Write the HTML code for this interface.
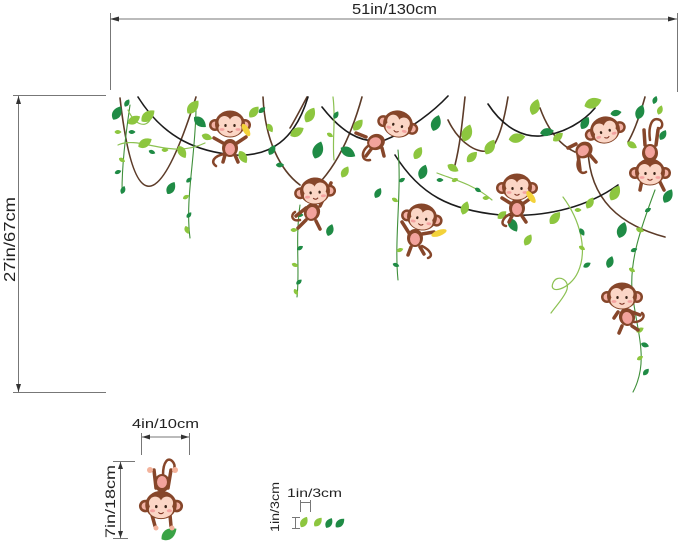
<!DOCTYPE html>
<html><head><meta charset="utf-8"><style>
html,body{margin:0;padding:0;background:#fff;}
svg{display:block;}
text{font-family:"Liberation Sans",Arial,sans-serif;fill:#222;}
</style></head><body>
<svg width="679" height="543" viewBox="0 0 679 543" xmlns="http://www.w3.org/2000/svg">
<defs>
<path id="lf" d="M-7,0 C-4,-5 2,-5.5 7,0 C2,5.5 -4,5 -7,0Z"/>
<g id="mh">
 <circle cx="-15" cy="1" r="6" fill="#86462a"/><circle cx="-15" cy="1" r="3.5" fill="#f3b1a4"/>
 <circle cx="15" cy="1" r="6" fill="#86462a"/><circle cx="15" cy="1" r="3.5" fill="#f3b1a4"/>
 <ellipse cx="0" cy="0" rx="15" ry="13.5" fill="#86462a"/>
 <ellipse cx="0" cy="4.5" rx="11.5" ry="8" fill="#fbd6c6"/>
 <circle cx="-5.5" cy="-2" r="6" fill="#fbd6c6"/><circle cx="5.5" cy="-2" r="6" fill="#fbd6c6"/>
 <ellipse cx="-4.5" cy="1.5" rx="1.2" ry="1.5" fill="#3a2418"/><ellipse cx="4.5" cy="1.5" rx="1.2" ry="1.5" fill="#3a2418"/>
 <ellipse cx="-8" cy="5.5" rx="2.5" ry="1.4" fill="#f4a2a0"/><ellipse cx="8" cy="5.5" rx="2.5" ry="1.4" fill="#f4a2a0"/>
 <path d="M-2.5,7 Q0,9.5 2.5,7" stroke="#7a3020" stroke-width="1" fill="none"/>
</g>
<g id="mb">
 <ellipse cx="0" cy="0" rx="8" ry="9" fill="#86462a"/>
 <ellipse cx="0" cy="1" rx="5" ry="6" fill="#f2a39d"/>
</g>
</defs>

<!-- dimension lines -->
<g stroke="#777" stroke-width="1" fill="none">
 <line x1="110" y1="19" x2="677" y2="19"/>
 <line x1="110.5" y1="13" x2="110.5" y2="90"/>
 <line x1="677.5" y1="13" x2="677.5" y2="92"/>
 <line x1="13" y1="95.5" x2="106" y2="95.5"/>
 <line x1="13" y1="392.5" x2="106" y2="392.5"/>
 <line x1="18.5" y1="95" x2="18.5" y2="392"/>
 <line x1="141" y1="437" x2="189" y2="437"/>
 <line x1="141.5" y1="433" x2="141.5" y2="455"/>
 <line x1="189.5" y1="433" x2="189.5" y2="455"/>
 <line x1="120.5" y1="461" x2="120.5" y2="538"/>
 <line x1="113" y1="461.5" x2="135" y2="461.5"/>
 <line x1="113" y1="538.5" x2="128" y2="538.5"/>
 <line x1="300.5" y1="500" x2="300.5" y2="512"/>
 <line x1="310.5" y1="500" x2="310.5" y2="512"/>
 <line x1="300" y1="502.5" x2="310" y2="502.5"/>
 <line x1="292" y1="517.5" x2="300" y2="517.5"/>
 <line x1="292" y1="528.5" x2="300" y2="528.5"/>
 <line x1="295.5" y1="517" x2="295.5" y2="528"/>
</g>
<g fill="#333">
 <polygon points="110,19 119,16.5 119,21.5"/>
 <polygon points="677,19 668,16.5 668,21.5"/>
 <polygon points="18.5,96 16,104 21,104"/>
 <polygon points="18.5,392 16,384 21,384"/>
 <polygon points="142,437 150,434.5 150,439.5"/>
 <polygon points="189,437 181,434.5 181,439.5"/>
 <polygon points="120.5,462 118,469 123,469"/>
 <polygon points="120.5,538 118,531 123,531"/>
</g>
<text x="352" y="14" font-size="15" textLength="85" lengthAdjust="spacingAndGlyphs">51in/130cm</text>
<text transform="translate(15,282) rotate(-90)" font-size="15.5" textLength="85" lengthAdjust="spacingAndGlyphs">27in/67cm</text>
<text x="132" y="428" font-size="13" textLength="67" lengthAdjust="spacingAndGlyphs">4in/10cm</text>
<text transform="translate(115,538) rotate(-90)" font-size="13.5" textLength="73" lengthAdjust="spacingAndGlyphs">7in/18cm</text>
<text x="287" y="497" font-size="12" textLength="55" lengthAdjust="spacingAndGlyphs">1in/3cm</text>
<text transform="translate(279,532) rotate(-90)" font-size="11.5" textLength="50" lengthAdjust="spacingAndGlyphs">1in/3cm</text>

<!-- vines -->
<g fill="none" stroke-linecap="round">
 <g stroke="#5c3b28" stroke-width="1.6">
  <path d="M120,98 Q140,275 196,97"/>
  <path d="M263,97 C265,140 280,170 300,185"/>
  <path d="M362,97 C350,140 335,165 322,180"/>
  <path d="M465,97 C462,125 460,145 455,165"/>
  <path d="M448,120 C460,145 480,155 490,150 C500,140 505,115 508,97"/>
  <path d="M540,108 C548,130 560,145 575,152"/>
  <path d="M588,150 C590,200 620,225 665,237"/>
  <path d="M645,97 C640,115 635,130 628,142"/>
  <path d="M307,97 C300,110 295,120 290,128"/>
 </g>
 <g stroke="#1c1c1c" stroke-width="1.6">
  <path d="M138,97 C165,140 200,152 235,155 C270,157 295,140 308,97"/>
  <path d="M322,107 C340,130 360,145 385,140 C410,130 435,110 448,96"/>
  <path d="M395,155 C420,195 450,210 500,215 C550,218 590,205 618,185"/>
  <path d="M488,104 C505,130 525,137 540,136 C565,134 585,120 595,108"/>
 </g>
 <g stroke="#3f8f3a" stroke-width="1.1">
  <path d="M655,190 C640,230 630,260 632,290 C636,330 650,360 633,392"/>
  <path d="M398,150 C402,190 394,240 398,280"/>
  <path d="M300,205 C295,240 300,270 297,297"/>
  <path d="M196,110 C195,160 185,200 190,238"/>
  <path d="M130,105 C125,140 122,165 122,192"/>
 </g>
 <g stroke="#8cc152" stroke-width="1.2">
  <path d="M563,197 C580,220 588,250 578,272 C570,290 548,295 553,283 C557,273 572,280 566,292 C562,300 556,306 551,313"/>
  <path d="M118,145 C140,135 170,160 205,143"/>
  <path d="M333,97 C336,120 332,140 334,160"/>
  <path d="M437,173 C455,180 475,185 492,200"/>
  <path d="M128,110 C135,125 145,128 150,120"/>
 </g>
</g>

<!-- leaves -->
<g>
<use href="#lf" fill="#1f8b45" transform="translate(117,113) rotate(-60) scale(1.1)"/>
<use href="#lf" fill="#8dc63f" transform="translate(134,120) rotate(-30) scale(1.0)"/>
<use href="#lf" fill="#8dc63f" transform="translate(148,116) rotate(-40) scale(1.2)"/>
<use href="#lf" fill="#8dc63f" transform="translate(145,143) rotate(-30) scale(1.1)"/>
<use href="#lf" fill="#8dc63f" transform="translate(182,152) rotate(60) scale(1.0)"/>
<use href="#lf" fill="#8dc63f" transform="translate(193,107) rotate(-50) scale(1.2)"/>
<use href="#lf" fill="#1f8b45" transform="translate(200,122) rotate(40) scale(1.1)"/>
<use href="#lf" fill="#1f8b45" transform="translate(171,188) rotate(-60) scale(1.0)"/>
<use href="#lf" fill="#1f8b45" transform="translate(127,103) rotate(-60) scale(0.6)"/>
<use href="#lf" fill="#1f8b45" transform="translate(132,132) rotate(0) scale(0.5)"/>
<use href="#lf" fill="#8dc63f" transform="translate(122,160) rotate(30) scale(0.5)"/>
<use href="#lf" fill="#1f8b45" transform="translate(118,172) rotate(-20) scale(0.5)"/>
<use href="#lf" fill="#1f8b45" transform="translate(123,190) rotate(-70) scale(0.6)"/>
<use href="#lf" fill="#1f8b45" transform="translate(152,152) rotate(20) scale(0.5)"/>
<use href="#lf" fill="#8dc63f" transform="translate(165,150) rotate(0) scale(0.5)"/>
<use href="#lf" fill="#1f8b45" transform="translate(189,180) rotate(-40) scale(0.5)"/>
<use href="#lf" fill="#8dc63f" transform="translate(186,197) rotate(-30) scale(0.5)"/>
<use href="#lf" fill="#1f8b45" transform="translate(189,215) rotate(-50) scale(0.5)"/>
<use href="#lf" fill="#8dc63f" transform="translate(187,230) rotate(70) scale(0.6)"/>
<use href="#lf" fill="#8dc63f" transform="translate(118,132) rotate(0) scale(0.5)"/>
<use href="#lf" fill="#8dc63f" transform="translate(243,157) rotate(60) scale(1.0)"/>
<use href="#lf" fill="#8dc63f" transform="translate(207,137) rotate(20) scale(0.8)"/>
<use href="#lf" fill="#8dc63f" transform="translate(254,112) rotate(-50) scale(1.0)"/>
<use href="#lf" fill="#8dc63f" transform="translate(310,115) rotate(-60) scale(1.2)"/>
<use href="#lf" fill="#8dc63f" transform="translate(297,132) rotate(-30) scale(1.1)"/>
<use href="#lf" fill="#1f8b45" transform="translate(272,150) rotate(-60) scale(0.8)"/>
<use href="#lf" fill="#8dc63f" transform="translate(270,128) rotate(60) scale(0.7)"/>
<use href="#lf" fill="#1f8b45" transform="translate(280,165) rotate(0) scale(0.6)"/>
<use href="#lf" fill="#1f8b45" transform="translate(262,110) rotate(-40) scale(0.6)"/>
<use href="#lf" fill="#1f8b45" transform="translate(300,215) rotate(0) scale(0.5)"/>
<use href="#lf" fill="#8dc63f" transform="translate(294,230) rotate(0) scale(0.5)"/>
<use href="#lf" fill="#1f8b45" transform="translate(300,248) rotate(-30) scale(0.5)"/>
<use href="#lf" fill="#8dc63f" transform="translate(295,265) rotate(20) scale(0.5)"/>
<use href="#lf" fill="#1f8b45" transform="translate(299,282) rotate(-40) scale(0.5)"/>
<use href="#lf" fill="#8dc63f" transform="translate(296,292) rotate(60) scale(0.5)"/>
<use href="#lf" fill="#1f8b45" transform="translate(318,150) rotate(-70) scale(1.3)"/>
<use href="#lf" fill="#1f8b45" transform="translate(348,152) rotate(30) scale(1.2)"/>
<use href="#lf" fill="#8dc63f" transform="translate(345,172) rotate(-60) scale(0.9)"/>
<use href="#lf" fill="#8dc63f" transform="translate(358,125) rotate(-50) scale(1.0)"/>
<use href="#lf" fill="#1f8b45" transform="translate(330,230) rotate(-70) scale(0.9)"/>
<use href="#lf" fill="#1f8b45" transform="translate(378,193) rotate(-60) scale(0.8)"/>
<use href="#lf" fill="#8dc63f" transform="translate(418,153) rotate(-60) scale(1.0)"/>
<use href="#lf" fill="#1f8b45" transform="translate(436,123) rotate(-70) scale(1.2)"/>
<use href="#lf" fill="#1f8b45" transform="translate(423,172) rotate(-70) scale(1.1)"/>
<use href="#lf" fill="#8dc63f" transform="translate(467,133) rotate(-70) scale(1.3)"/>
<use href="#lf" fill="#8dc63f" transform="translate(472,157) rotate(-45) scale(1.0)"/>
<use href="#lf" fill="#8dc63f" transform="translate(453,168) rotate(30) scale(0.9)"/>
<use href="#lf" fill="#8dc63f" transform="translate(465,208) rotate(-70) scale(1.0)"/>
<use href="#lf" fill="#1f8b45" transform="translate(440,180) rotate(0) scale(0.5)"/>
<use href="#lf" fill="#8dc63f" transform="translate(455,180) rotate(-20) scale(0.5)"/>
<use href="#lf" fill="#1f8b45" transform="translate(478,190) rotate(30) scale(0.5)"/>
<use href="#lf" fill="#8dc63f" transform="translate(486,198) rotate(0) scale(0.5)"/>
<use href="#lf" fill="#1f8b45" transform="translate(402,180) rotate(-30) scale(0.5)"/>
<use href="#lf" fill="#8dc63f" transform="translate(395,200) rotate(30) scale(0.5)"/>
<use href="#lf" fill="#8dc63f" transform="translate(400,250) rotate(-20) scale(0.5)"/>
<use href="#lf" fill="#1f8b45" transform="translate(396,265) rotate(20) scale(0.5)"/>
<use href="#lf" fill="#1f8b45" transform="translate(336,115) rotate(-60) scale(0.6)"/>
<use href="#lf" fill="#8dc63f" transform="translate(330,135) rotate(30) scale(0.5)"/>
<use href="#lf" fill="#8dc63f" transform="translate(535,107) rotate(-70) scale(1.2)"/>
<use href="#lf" fill="#8dc63f" transform="translate(593,103) rotate(-20) scale(1.3)"/>
<use href="#lf" fill="#8dc63f" transform="translate(490,147) rotate(-60) scale(1.2)"/>
<use href="#lf" fill="#8dc63f" transform="translate(517,138) rotate(-10) scale(1.2)"/>
<use href="#lf" fill="#1f8b45" transform="translate(547,132) rotate(-10) scale(1.0)"/>
<use href="#lf" fill="#8dc63f" transform="translate(558,137) rotate(-40) scale(0.9)"/>
<use href="#lf" fill="#1f8b45" transform="translate(585,123) rotate(-60) scale(1.0)"/>
<use href="#lf" fill="#1f8b45" transform="translate(640,112) rotate(-70) scale(1.1)"/>
<use href="#lf" fill="#1f8b45" transform="translate(616,113) rotate(-10) scale(0.8)"/>
<use href="#lf" fill="#8dc63f" transform="translate(632,145) rotate(30) scale(0.8)"/>
<use href="#lf" fill="#1f8b45" transform="translate(668,196) rotate(-60) scale(1.1)"/>
<use href="#lf" fill="#8dc63f" transform="translate(615,193) rotate(-60) scale(1.2)"/>
<use href="#lf" fill="#8dc63f" transform="translate(590,203) rotate(-60) scale(0.9)"/>
<use href="#lf" fill="#8dc63f" transform="translate(555,218) rotate(-50) scale(1.1)"/>
<use href="#lf" fill="#8dc63f" transform="translate(528,240) rotate(-60) scale(0.9)"/>
<use href="#lf" fill="#1f8b45" transform="translate(622,230) rotate(-70) scale(1.2)"/>
<use href="#lf" fill="#1f8b45" transform="translate(610,262) rotate(-70) scale(0.9)"/>
<use href="#lf" fill="#1f8b45" transform="translate(513,225) rotate(60) scale(1.1)"/>
<use href="#lf" fill="#8dc63f" transform="translate(502,215) rotate(-40) scale(0.8)"/>
<use href="#lf" fill="#1f8b45" transform="translate(582,232) rotate(60) scale(0.6)"/>
<use href="#lf" fill="#8dc63f" transform="translate(578,210) rotate(0) scale(0.5)"/>
<use href="#lf" fill="#1f8b45" transform="translate(587,265) rotate(-30) scale(0.6)"/>
<use href="#lf" fill="#8dc63f" transform="translate(582,248) rotate(30) scale(0.5)"/>
<use href="#lf" fill="#1f8b45" transform="translate(648,210) rotate(-30) scale(0.5)"/>
<use href="#lf" fill="#8dc63f" transform="translate(640,230) rotate(20) scale(0.6)"/>
<use href="#lf" fill="#1f8b45" transform="translate(634,250) rotate(-20) scale(0.5)"/>
<use href="#lf" fill="#8dc63f" transform="translate(632,270) rotate(30) scale(0.5)"/>
<use href="#lf" fill="#8dc63f" transform="translate(640,330) rotate(-30) scale(0.6)"/>
<use href="#lf" fill="#1f8b45" transform="translate(645,345) rotate(20) scale(0.6)"/>
<use href="#lf" fill="#8dc63f" transform="translate(640,358) rotate(-30) scale(0.5)"/>
<use href="#lf" fill="#1f8b45" transform="translate(646,372) rotate(-50) scale(0.6)"/>
<use href="#lf" fill="#1f8b45" transform="translate(663,135) rotate(-60) scale(0.8)"/>
<use href="#lf" fill="#8dc63f" transform="translate(660,110) rotate(-70) scale(0.7)"/>
<use href="#lf" fill="#1f8b45" transform="translate(655,100) rotate(-70) scale(0.6)"/>
<!-- bottom small leaves -->
<use href="#lf" fill="#8dc63f" transform="translate(304,522) rotate(-60) scale(0.85)"/>
<use href="#lf" fill="#8dc63f" transform="translate(318,522) rotate(-50) scale(0.8)"/>
<use href="#lf" fill="#1f8b45" transform="translate(329,523) rotate(-60) scale(0.8)"/>
<use href="#lf" fill="#1f8b45" transform="translate(340,523) rotate(-45) scale(0.85)"/>
<use href="#lf" fill="#3aa346" transform="translate(169,534) rotate(-35) scale(1.3)"/>
</g>

<!-- monkeys -->
<g stroke="#86462a" stroke-width="3.5" stroke-linecap="round" fill="none">
 <!-- M1 -->
 <path d="M223,143 L214,138"/><path d="M237,143 L246,137"/>
 <path d="M225,155 L223,162"/><path d="M235,155 L238,162"/>
 <path d="M224,154 C214,156 210,162 216,166" stroke-width="2.5"/>
 <!-- M2 -->
 <path d="M320,206 L331,183"/><path d="M306,208 L296,216"/>
 <path d="M306,220 L298,228"/><path d="M316,221 L320,229"/>
 <path d="M300,220 C292,222 290,215 295,212" stroke-width="2.5"/>
 <!-- M3 -->
 <path d="M366,137 L356,133"/><path d="M372,148 L366,156"/><path d="M382,148 L384,156"/>
 <path d="M368,146 C360,152 362,162 370,160" stroke-width="2.5"/>
 <!-- M4 -->
 <path d="M409,233 L402,222"/><path d="M422,234 L434,232"/>
 <path d="M411,247 L408,255"/><path d="M420,247 L424,254"/>
 <path d="M422,246 C430,250 434,256 428,258" stroke-width="2.5"/>
 <!-- M5 -->
 <path d="M510,203 L502,198"/><path d="M524,203 L531,198"/>
 <path d="M512,216 L509,222"/><path d="M522,216 L526,222"/>
 <path d="M510,214 C502,218 500,225 506,226" stroke-width="2.5"/>
 <!-- M6 -->
 <path d="M576,144 L568,148"/><path d="M578,154 L580,170"/><path d="M590,155 L596,162"/>
 <path d="M580,156 C574,166 580,176 586,172" stroke-width="2.5"/>
 <!-- M7 -->
 <path d="M645,145 L644,130"/><path d="M656,145 L658,130"/>
 <path d="M642,180 L640,190"/><path d="M659,180 L664,190"/>
 <path d="M650,140 C648,126 652,116 660,120 C664,123 662,130 658,128" stroke-width="2.5"/>
 <!-- M8 -->
 <path d="M632,312 L640,315"/><path d="M618,312 L614,318"/>
 <path d="M622,326 L619,333"/><path d="M632,326 L638,330"/>
 <path d="M634,322 C642,322 646,316 642,313" stroke-width="2.5"/>
 <!-- small monkey -->
 <path d="M156,488 L154,470"/><path d="M168,488 L171,470"/>
 <path d="M152,515 L155,526"/><path d="M170,515 L171,526"/>
 <path d="M163,475 C163,462 168,456 173,462 C176,466 174,472 171,470" stroke-width="2.5"/>
</g>
<g fill="#f3b39c">
 <circle cx="150" cy="470" r="3"/><circle cx="175" cy="470" r="3"/>
 <circle cx="156" cy="528" r="2.5"/><circle cx="172" cy="528" r="2.5"/>
</g>
<use href="#mb" transform="translate(230,148)"/>
<use href="#mh" transform="translate(230,124)"/>
<use href="#mb" transform="translate(312,212) rotate(20)"/>
<use href="#mh" transform="translate(315,191) rotate(-5)"/>
<use href="#mb" transform="translate(376,142) rotate(70)"/>
<use href="#mh" transform="translate(398,124) rotate(15)"/>
<use href="#mb" transform="translate(415,238)"/>
<use href="#mh" transform="translate(422,217) rotate(10)"/>
<use href="#mb" transform="translate(517,208)"/>
<use href="#mh" transform="translate(517,187)"/>
<use href="#mb" transform="translate(584,150) rotate(50)"/>
<use href="#mh" transform="translate(605,130) rotate(-15)"/>
<use href="#mb" transform="translate(650,153) rotate(180)"/>
<use href="#mh" transform="translate(650,172)"/>
<use href="#mb" transform="translate(627,317) rotate(-15)"/>
<use href="#mh" transform="translate(622,296)"/>
<use href="#mb" transform="translate(162,483) rotate(180)"/>
<use href="#mh" transform="translate(161,505) scale(1.05)"/>
<!-- bananas -->
<g fill="#f3d23a">
 <ellipse cx="246" cy="130" rx="3" ry="7" transform="rotate(-30 246 130)"/>
 <ellipse cx="439" cy="233" rx="3" ry="8" transform="rotate(70 439 233)"/>
 <ellipse cx="531" cy="197" rx="3" ry="7" transform="rotate(-35 531 197)"/>
</g>
</svg>
</body></html>
